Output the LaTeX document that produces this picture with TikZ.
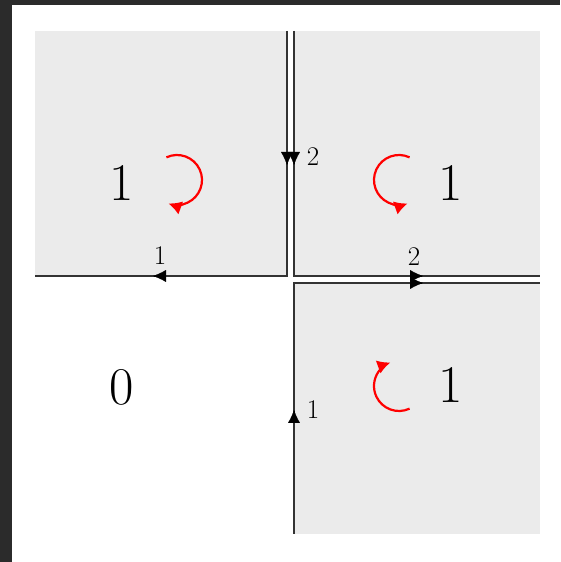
\documentclass[tikz,border=0pt]{standalone}
\usetikzlibrary{arrows.meta}
\definecolor{frame}{HTML}{2B2B2B}
\definecolor{region}{HTML}{EBEBEB}
\definecolor{edge}{HTML}{333333}
\tikzset{
  x=1pt,y=1pt,
  regionbox/.style={fill=region,draw=none},
  edgeline/.style={draw=edge,line width=1.8pt},
  edgetip/.style={draw=black,line width=0.2pt,-{Latex[length=13pt,width=12pt]}},
  smalllab/.style={inner sep=0pt,font=\fontsize{27}{27}\selectfont},
  biglab/.style={inner sep=0pt,font=\fontsize{53}{53}\selectfont},
  turn/.style={draw=red,line width=2.2pt,-{Latex[length=13pt,width=14pt]}}
}
\begin{document}
\begin{tikzpicture}
\useasboundingbox (0,0) rectangle (560,562);
\fill[white] (0,0) rectangle (560,562);
\fill[frame] (0,0) rectangle (12,562);
\fill[frame] (0,557) rectangle (560,562);
% regions
\path[regionbox] (35,286) rectangle (287,531);
\path[regionbox] (294,286) rectangle (540,531);
\path[regionbox] (294,28) rectangle (540,279);
% corner coordinates
\coordinate (a1) at (287,531);
\coordinate (a2) at (287,286);
\coordinate (a3) at (35,286);
\coordinate (b1) at (294,531);
\coordinate (b2) at (294,286);
\coordinate (b3) at (540,286);
\coordinate (c1) at (294,28);
\coordinate (c2) at (294,279);
\coordinate (c3) at (540,279);
\draw[edgeline] (a1) -- (a2) -- (a3);
\draw[edgeline] (b1) -- (b2) -- (b3);
\draw[edgeline] (c1) -- (c2) -- (c3);
% arrow tips on edges
\coordinate (ta) at (287,397);
\coordinate (tb) at (294,397);
\coordinate (tl) at (153,286);
\coordinate (trb) at (423,286);
\coordinate (trc) at (423,279);
\coordinate (tu) at (294,152);
\draw[edgetip] ([yshift=1pt]ta) -- (ta);
\draw[edgetip] ([yshift=1pt]tb) -- (tb);
\draw[edgetip] ([xshift=1pt]tl) -- (tl);
\draw[edgetip] ([xshift=-1pt]trb) -- (trb);
\draw[edgetip] ([xshift=-1pt]trc) -- (trc);
\draw[edgetip] ([yshift=-1pt]tu) -- (tu);
% small labels
\node[smalllab] (l2v) at (313,405) {2};
\node[smalllab] (l1h) at (160,306) {1};
\node[smalllab] (l2h) at (414,305) {2};
\node[smalllab] (l1v) at (313,152) {1};
% big labels
\node[biglab] (n1) at (122,379) {1};
\node[biglab] (n2) at (451,379) {1};
\node[biglab] (n3) at (451,177) {1};
\node[biglab] (n0) at (122,175) {0};
% red turning arrows
\coordinate (o1) at (177,382);
\coordinate (o2) at (399,382);
\coordinate (o3) at (399,176);
\draw[turn] ([shift={(115:25)}]o1) arc[start angle=115,end angle=-110,radius=25];
\draw[turn] ([shift={(65:25)}]o2) arc[start angle=65,end angle=290,radius=25];
\draw[turn] ([shift={(-65:25)}]o3) arc[start angle=-65,end angle=-250,radius=25];
\end{tikzpicture}
\end{document}
